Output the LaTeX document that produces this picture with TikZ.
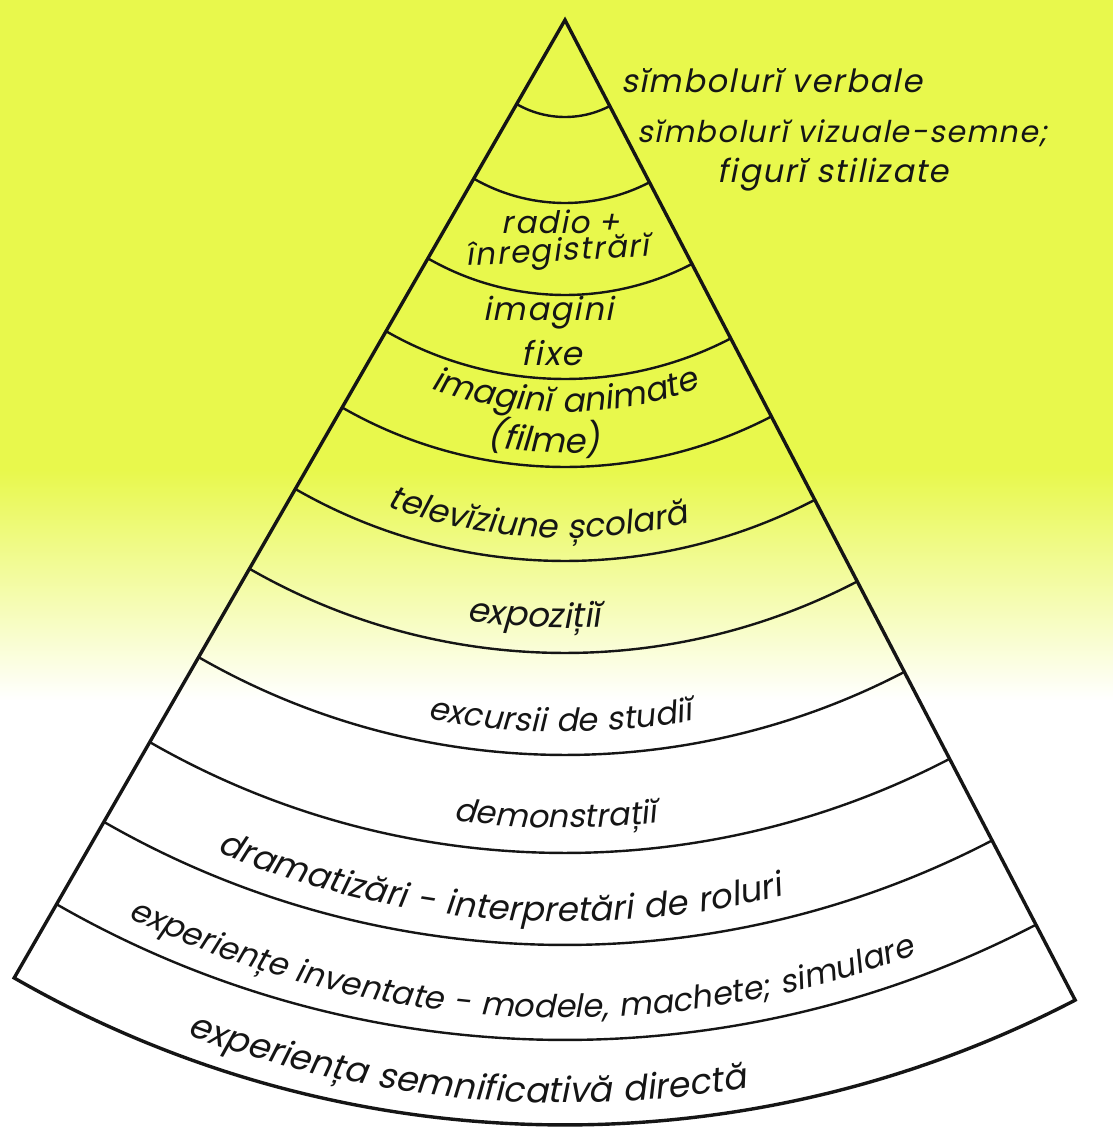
\documentclass[tikz,border=0pt]{standalone}
\usepackage{fontspec}
\setmainfont{Poppins}
\newfontfamily\conefont{Poppins}[FakeSlant=0.2, LetterSpace=5]
\usetikzlibrary{decorations.text}
\definecolor{coneyellow}{HTML}{E8F84C}
\definecolor{coneink}{HTML}{151515}

\tikzset{
  coneline/.style={draw=coneink, line width=3.4pt, line join=miter},
  bandline/.style={draw=coneink, line width=2.4pt},
  conelabel/.style={font=\conefont\fontsize{#1}{36}\selectfont, text=coneink, inner sep=0pt},
  conelabel/.default=32,
}
% text laid on an arc round the apex: font size, radius, centre angle, text
\newcommand{\bandlabel}[4]{%
  \path[decorate, decoration={text along path, text align=center,
      text color=coneink, text={|\conefont\fontsize{#1}{36}\selectfont|#4}}]
    ({#3-40}:#2) arc[start angle={#3-40}, end angle={#3+40}, radius=#2];}

\begin{document}
\begin{tikzpicture}[x=1pt, y=1pt]

  % paper: yellow on top, fading to white
  \fill[white] (-565,20) rectangle (548,-1108);
  \fill[coneyellow] (-565,20) rectangle (548,-454);
  \shade[top color=coneyellow, bottom color=white] (-565,-450) rectangle (548,-680);
  \useasboundingbox (-565,20) rectangle (548,-1108);

  \coordinate (apex) at (0,0);

  % bands
  \foreach \r in {97,183,275,359,447,541,633,735,833,925,1020}
    \draw[bandline] (-119.9:\r) arc[start angle=-119.9, end angle=-62.5, radius=\r];

  % cone outline
  \draw[coneline] (apex) -- (-119.9:1105)
    arc[start angle=-119.9, end angle=-62.5, radius=1105] -- cycle;

  % labels beside the tip
  \node[conelabel=32, anchor=base west] (verbal) at (56,-72) {sĭmbolurĭ verbale};
  \node[conelabel=30, anchor=base west] (visual) at (72,-122) {sĭmbolurĭ vizuale-semne;};
  \node[conelabel=32, anchor=base] (figures) at (268,-162) {figurĭ stilizate};

  % labels in the upper bands
  \node[conelabel=31, anchor=base] (radio) at (-4,-213) {radio +};
  \node[conelabel=31, anchor=base, rotate=3] (records) at (-7,-241) {înregistrărĭ};
  \node[conelabel=32, anchor=base] (still) at (-17,-300) {imagini};
  \node[conelabel=33, anchor=base] (fixed) at (-13,-345) {fixe};

  % labels following the arcs
  \bandlabel{33}{392}{-90}{imaginĭ animate}
  \bandlabel{34}{433}{-92.8}{(filme)}
  \bandlabel{33}{518}{-93.1}{televĭziune școlară}
  \bandlabel{34}{608}{-93}{expozițiĭ}
  \bandlabel{32}{712}{-90.4}{excursii de studiĭ}
  \bandlabel{32}{808}{-90.7}{demonstrațiĭ}
  \bandlabel{34}{902}{-94.4}{dramatizări - interpretări de roluri}
  \bandlabel{32}{998}{-92.75}{experiențe inventate - modele, machete; simulare}
  \bandlabel{35}{1083}{-95.4}{experiența semnificativă directă}

\end{tikzpicture}
\end{document}
